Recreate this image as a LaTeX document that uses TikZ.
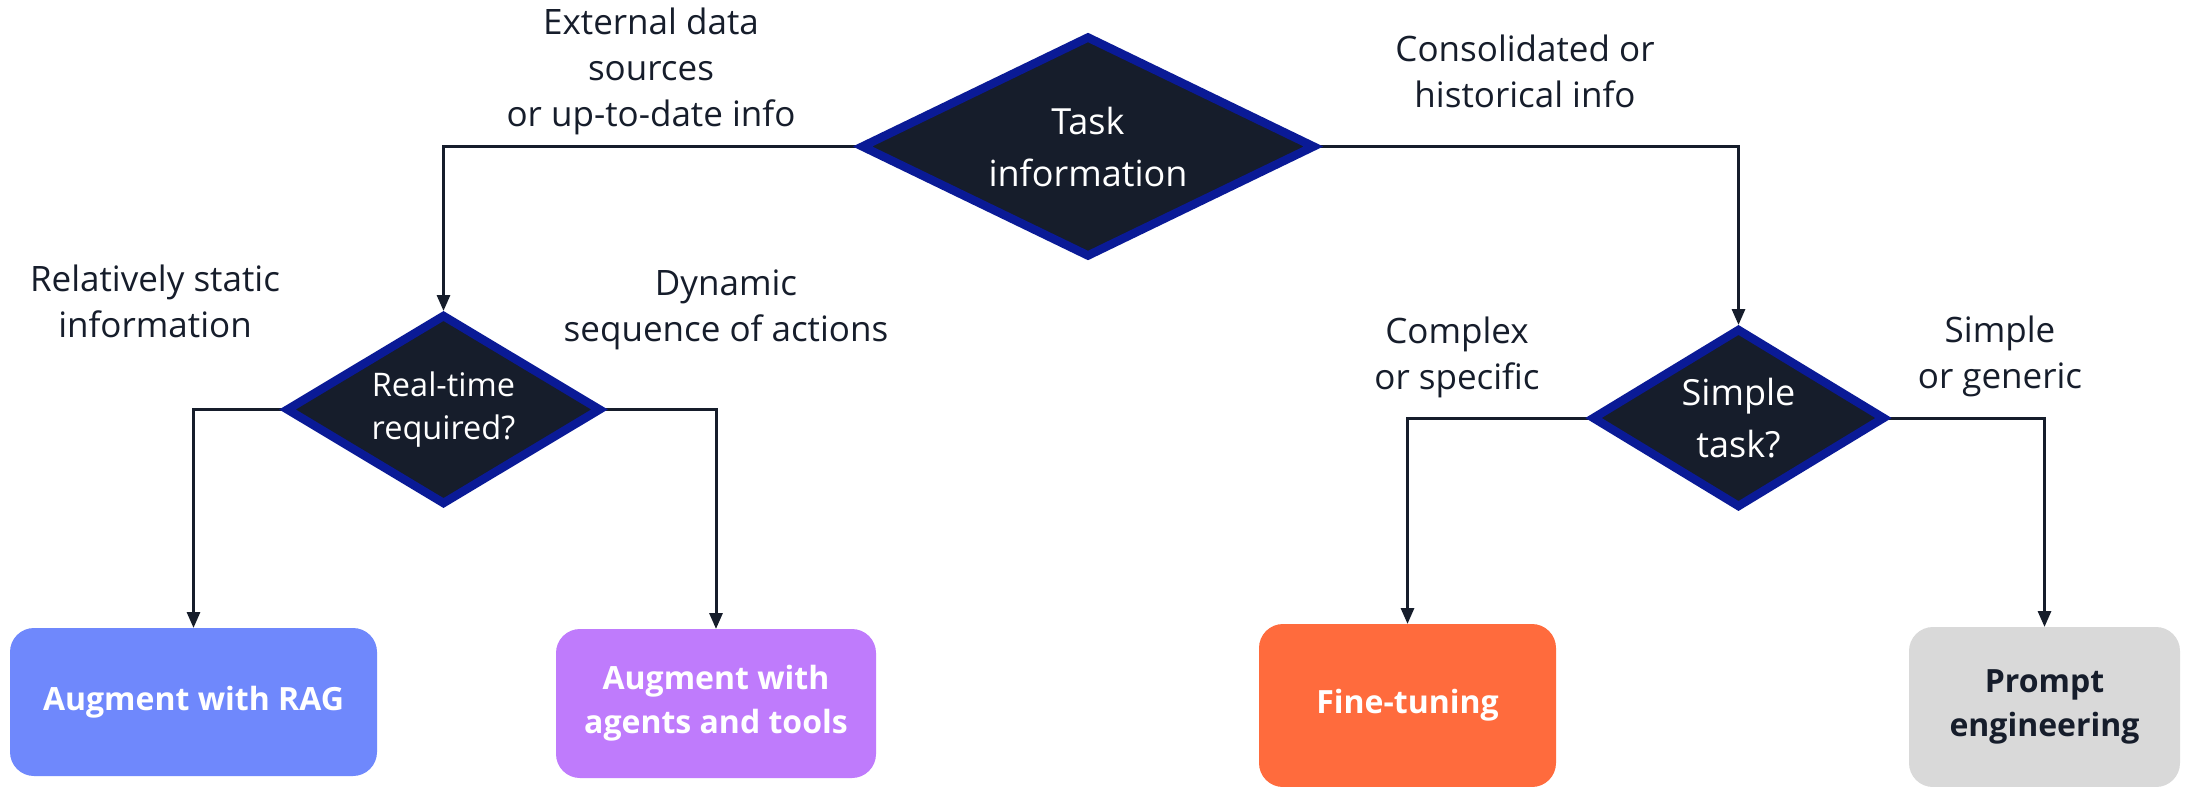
\documentclass[tikz,border=0pt]{standalone}
\usepackage{fontspec}
\setmainfont{Open Sans}
\usetikzlibrary{shapes.geometric,arrows.meta}
\pgfdeclarelayer{background}
\pgfsetlayers{background,main}
\definecolor{ink}{HTML}{161D2B}
\definecolor{rim}{HTML}{0A1A96}
\definecolor{ragblue}{HTML}{6F88FC}
\definecolor{agentviolet}{HTML}{BF7BFC}
\definecolor{tuneorange}{HTML}{FF6B3D}
\definecolor{promptgrey}{HTML}{D9D9D9}
\begin{document}
\begin{tikzpicture}[x=1pt,y=-1pt,
  decision/.style={diamond, fill=ink, draw=rim, line width=8.5pt, inner sep=0pt,
    outer sep=0pt, text=white, align=center},
  outcome/.style={rectangle, rounded corners=24pt, inner sep=0pt, outer sep=0pt,
    align=center, font=\bfseries\fontsize{32}{44}\selectfont},
  branch/.style={align=center, text=ink, inner sep=0pt, font=\fontsize{35}{46}\selectfont},
  conn/.style={draw=ink, line width=3pt, -{Triangle[length=16pt,width=13pt]}}]

\useasboundingbox (0,0) rectangle (2188,787);

% decisions
\node[decision, aspect=2.07, minimum width=451pt, minimum height=218pt,
  font=\fontsize{36}{52}\selectfont] (task) at (1088,146.5) {Task\\information};
\node[decision, aspect=1.67, minimum width=312pt, minimum height=187pt,
  font=\fontsize{32.5}{43}\selectfont] (rt) at (443.5,409.5) {Real-time\\required?};
\node[decision, aspect=1.65, minimum width=290pt, minimum height=176pt,
  font=\fontsize{36}{52}\selectfont] (st) at (1738.5,418) {Simple\\task?};

% outcomes
\node[outcome, fill=ragblue, text=white, minimum width=367pt, minimum height=148pt]
  (rag) at (193.5,702) {Augment with RAG};
\node[outcome, fill=agentviolet, text=white, minimum width=320pt, minimum height=149pt]
  (agents) at (716,703.5) {Augment with\\agents and tools};
\node[outcome, fill=tuneorange, text=white, minimum width=297pt, minimum height=163pt]
  (ft) at (1407.5,705.5) {Fine-tuning};
\node[outcome, fill=promptgrey, text=ink, minimum width=271pt, minimum height=160pt]
  (pe) at (2044.5,707) {Prompt\\engineering};

% branch labels
\node[branch] (lext) at (651,71) {External data\\sources\\or up-to-date info};
\node[branch] (lcons) at (1525,71.5) {Consolidated or\\historical info};
\node[branch] (lstatic) at (155,301.5) {Relatively static\\information};
\node[branch] (ldyn) at (726,309.5) {Dynamic\\sequence of actions};
\node[branch] (lcomplex) at (1457,357.5) {Complex\\or specific};
\node[branch] (lsimple) at (2000,356.5) {Simple\\or generic};

% white page and connectors, kept under the decision rims
\begin{pgfonlayer}{background}
\fill[white] (0,0) rectangle (2188,787);
\draw[conn, shorten >=5pt] (task.west) -| (rt.north);
\draw[conn, shorten >=5pt] (task.east) -| (st.north);
\draw[conn] (rt.west) -| (rag.north);
\draw[conn] (rt.east) -| (agents.north);
\draw[conn] (st.west) -| (ft.north);
\draw[conn] (st.east) -| (pe.north);
\end{pgfonlayer}
\end{tikzpicture}
\end{document}
